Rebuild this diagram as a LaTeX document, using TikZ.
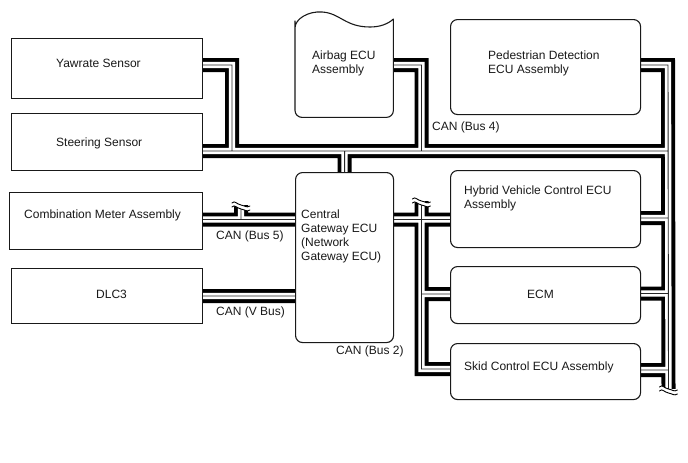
\documentclass[tikz,border=0pt]{standalone}
\usepackage{fontspec}
\setmainfont{Liberation Sans}
\pgfdeclarelayer{bus}
\pgfdeclarelayer{brk}
\pgfsetlayers{bus,brk,main}
\tikzset{
  box/.style={draw=black!90,line width=1.1pt,fill=white,rounded corners=7pt,inner sep=0pt,anchor=north west},
  sqbox/.style={box,rounded corners=0pt},
  txt/.style={inner sep=0pt,anchor=west,align=left,font=\fontsize{12}{14}\selectfont,text=black!90},
  wavy/.style={draw=black,line width=0.9pt,line cap=round},
}
\newcommand{\mybox}[5]{\node[box,minimum width=#4-#2,minimum height=#5-#3] (#1) at (#2,#3) {};}
\newcommand{\mysq}[5]{\node[sqbox,minimum width=#4-#2,minimum height=#5-#3] (#1) at (#2,#3) {};}
\newcommand{\allbuses}[2]{%
  \draw[line width=#1,color=#2,line join=miter]
    (yaw.east |- 0,65) -- (232,65) -- (232,151)
    (steer.east |- 0,151) -- (668,151)
    (airbag.east |- 0,65) -- (421.5,65) -- (421.5,151)
    (gw.north |- 0,151) -- (gw.north)
    (ped.east |- 0,65) -- (668,65) -- (brkC)
    (hyb.east |- 0,218) -- (668,218)
    (ecm.east |- 0,293.5) -- (668,293.5)
    (skid.east |- 0,370) -- (668,370)
    (comb.east |- 0,219.5) -- (gw.west |- 0,219.5)
    (241,219.5) -- (brkA)
    (dlc.east |- 0,296) -- (gw.west |- 0,296)
    (gw.east |- 0,219.5) -- (hyb.west |- 0,219.5)
    (brkB) -- (421.5,369) -- (skid.west |- 0,369)
    (421.5,294) -- (ecm.west |- 0,294);
}
\newcommand{\breakmark}[1]{%
  \fill[white] ([xshift=-9pt,yshift=2pt]#1) .. controls +(3,-3) and +(-5,-1) .. ([yshift=0pt]#1) .. controls +(5,1) and +(-4,2) .. ([xshift=9pt,yshift=-1pt]#1)
     -- ([xshift=9pt,yshift=-5pt]#1) .. controls +(-4,2) and +(5,1) .. ([yshift=-4pt]#1) .. controls +(-5,-1) and +(3,-3) .. ([xshift=-9pt,yshift=-2pt]#1) -- cycle;
  \draw[wavy] ([xshift=-9pt,yshift=2pt]#1) .. controls +(3,-3) and +(-5,-1) .. ([yshift=0pt]#1) .. controls +(5,1) and +(-4,2) .. ([xshift=9pt,yshift=-1pt]#1);
  \draw[wavy] ([xshift=-9pt,yshift=-2pt]#1) .. controls +(3,-3) and +(-5,-1) .. ([yshift=-4pt]#1) .. controls +(5,1) and +(-4,2) .. ([xshift=9pt,yshift=-5pt]#1);
}
\begin{document}
\begin{tikzpicture}[x=1pt,y=-1pt]
\useasboundingbox (0,0) rectangle (688,463);
\mysq{yaw}{11}{38}{202}{98}
\mysq{steer}{11}{113}{202}{170}
\mysq{comb}{9}{192}{202}{249}
\mysq{dlc}{11}{268}{202}{323}
\mybox{gw}{295}{172}{393}{342}
\mybox{ped}{450}{19}{640}{114}
\mybox{hyb}{450}{170}{640}{247}
\mybox{ecm}{450}{266}{640}{323}
\mybox{skid}{450}{343}{640}{399}
\node[inner sep=0pt,minimum width=98pt,minimum height=105pt,anchor=north west] (airbag) at (295,12) {};
\draw[draw=black!90,line width=1.1pt,fill=white,line join=round] (airbag.west |- 0,28)
  .. controls (295,19) and (308,11) .. (322,12)
  .. controls (340,13) and (345,27) .. (370,27)
  .. controls (380,27) and (388,24) .. (airbag.east |- 0,19)
  [rounded corners=7pt] -- (airbag.south east) -- (airbag.south west) -- (airbag.west |- 0,28)
  [sharp corners] -- cycle;
\coordinate (brkA) at (241,205);
\coordinate (brkB) at (421.5,201);
\coordinate (brkC) at (668.5,389);
\begin{pgfonlayer}{bus}
\allbuses{14pt}{black}
\allbuses{6.3pt}{white}
\allbuses{0.9pt}{black!85}
\end{pgfonlayer}
\begin{pgfonlayer}{brk}
\breakmark{brkA}
\breakmark{brkB}
\breakmark{brkC}
\end{pgfonlayer}
\node[txt] (t1) at (56,63) {Yawrate Sensor};
\node[txt] (t2) at (56,143.7) {Steering Sensor};
\node[txt] (t3) at (24,215.7) {Combination Meter Assembly};
\node[txt] (t4) at (96,294.7) {DLC3};
\node[txt] (t5) at (312,63.2) {Airbag ECU\\Assembly};
\node[txt] (t6) at (488,63.2) {Pedestrian Detection\\ECU Assembly};
\node[txt] (t7) at (464,198.2) {Hybrid Vehicle Control ECU\\Assembly};
\node[txt] (t8) at (527,294.7) {ECM};
\node[txt] (t9) at (464,367.7) {Skid Control ECU Assembly};
\node[txt] (t10) at (301,236.5) {Central\\Gateway ECU\\(Network\\Gateway ECU)};
\node[txt] (l1) at (432,127.7) {CAN (Bus 4)};
\node[txt] (l2) at (216,236.7) {CAN (Bus 5)};
\node[txt] (l3) at (216,312.7) {CAN (V Bus)};
\node[txt] (l4) at (336,351.7) {CAN (Bus 2)};
\end{tikzpicture}
\end{document}
